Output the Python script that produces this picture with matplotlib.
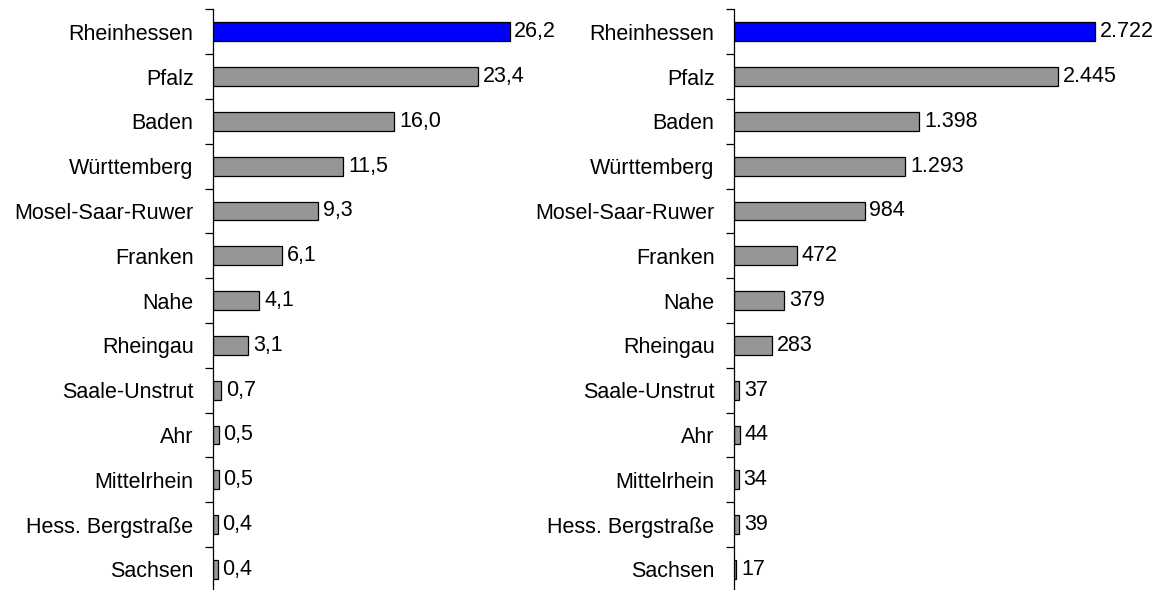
import numpy as np
import matplotlib.pyplot as plt
from matplotlib.ticker import FixedLocator

regions = ["Rheinhessen", "Pfalz", "Baden", "Württemberg", "Mosel-Saar-Ruwer",
           "Franken", "Nahe", "Rheingau", "Saale-Unstrut", "Ahr", "Mittelrhein",
           "Hess. Bergstraße", "Sachsen"]
share = [26.2, 23.4, 16.0, 11.5, 9.3, 6.1, 4.1, 3.1, 0.7, 0.5, 0.5, 0.4, 0.4]
hectares = [2722, 2445, 1398, 1293, 984, 472, 379, 283, 37, 44, 34, 39, 17]

share_labels = [f"{v:.1f}".replace(".", ",") for v in share]
hect_labels = [f"{v:,}".replace(",", ".") for v in hectares]

plt.rcParams['font.family'] = ['Liberation Sans', 'DejaVu Sans']

fig = plt.figure(figsize=(11.65, 5.9), dpi=100)
W, H = 1165, 590

colors = ['#0000ff'] + ['#969696'] * (len(regions) - 1)
y = np.arange(len(regions))


def panel(left, right, vals, labels, xmax, gap):
    ax = fig.add_axes([left / W, 0, (right - left) / W, (H - 9.3) / H])
    ax.barh(y, vals, height=0.42, color=colors, edgecolor='black', linewidth=0.9)
    ax.set_xlim(0, xmax)
    ax.set_ylim(12.46, -0.5)
    for s in ['top', 'right', 'bottom']:
        ax.spines[s].set_visible(False)
    ax.spines['left'].set_linewidth(0.9)
    ax.set_xticks([])
    ax.set_yticks(y)
    ax.set_yticklabels(regions, fontsize=15.5)
    ax.yaxis.set_minor_locator(FixedLocator(np.arange(-0.5, len(regions), 1)))
    ax.tick_params(axis='y', which='major', length=0, pad=14)
    ax.tick_params(axis='y', which='minor', length=6, width=0.9, direction='out')
    for yi, v, t in zip(y, vals, labels):
        ax.annotate(t, (v, yi), xytext=(gap, 0), textcoords='offset points',
                    va='center', ha='left', fontsize=15.5)
    return ax


panel(213, 560, share, share_labels, 26.2 * 347 / 296.5, 3.5)
panel(734, 1150, hectares, hect_labels, 2722 * 416 / 361, 3.5)

fig.savefig('out.png', dpi=100)
